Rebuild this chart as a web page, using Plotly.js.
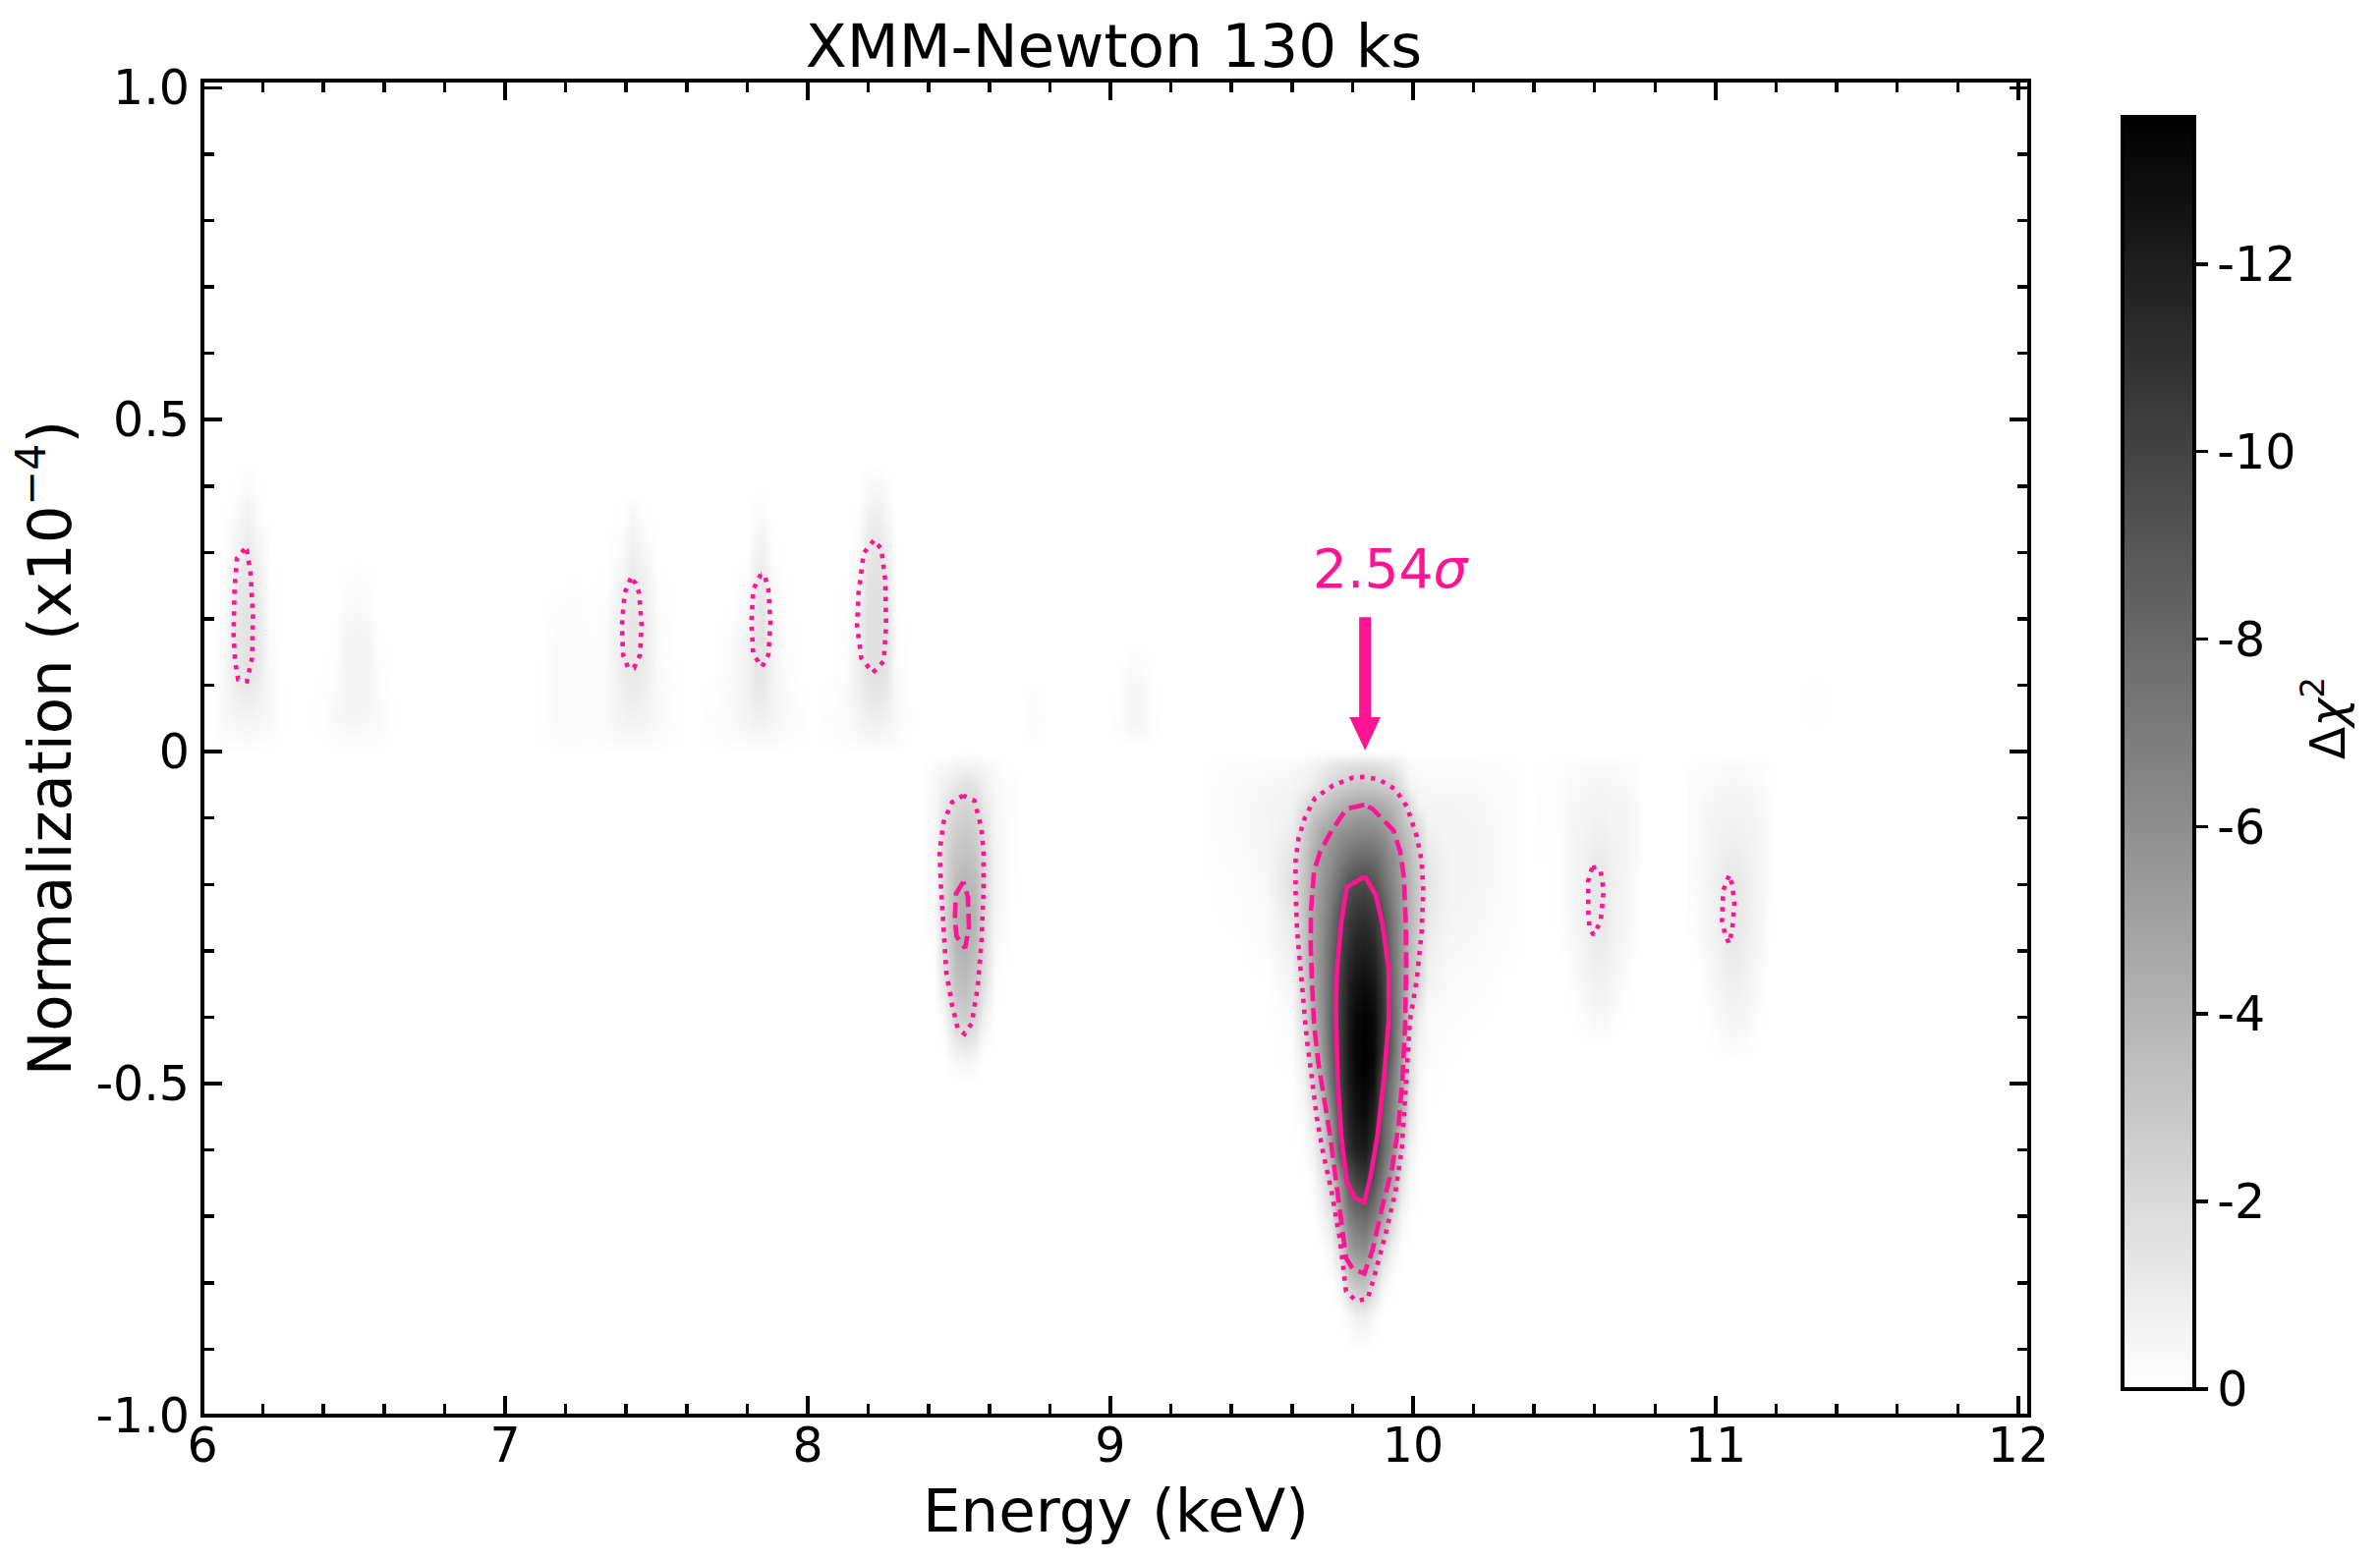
<!DOCTYPE html>
<html>
<head>
<meta charset="utf-8">
<script src="https://cdn.plot.ly/plotly-3.0.1.min.js"></script>
<style>html,body{margin:0;padding:0;background:#fff}</style>
</head>
<body>
<div id="plot-1" style="width:2422px;height:1589px"></div>
<script>
// Delta chi2 maps, stored as magnitude (the colourbar labels carry the sign)
var mainX = [9.30,9.42,9.52,9.60,9.64,9.67,9.70,9.73,9.76,9.79,9.81,9.84,9.87,9.90,9.93,9.96,9.99,10.02,10.05,10.12,10.20,10.30,10.38];
var mainY = [0,-0.02,-0.05,-0.08,-0.12,-0.16,-0.2,-0.25,-0.3,-0.35,-0.4,-0.45,-0.5,-0.55,-0.6,-0.65,-0.7,-0.75,-0.8,-0.85,-0.9];
var mainZ = [
 [0,0,0,0,0,0,0,0,0,0,0,0,0,0,0,0,0,0,0,0,0,0,0],
 [0,.15,.2,.3,.4,.6,.9,1.2,1.4,1.5,1.6,1.7,1.6,1.4,1.2,.7,.3,.2,.2,.2,.2,.1,0],
 [0,.3,.4,.5,.7,1.0,1.6,2.2,2.5,2.8,2.9,3.0,2.9,2.7,2.5,1.5,.6,.4,.35,.35,.35,.2,0],
 [0,.3,.5,.7,1.5,2.5,3.0,3.6,4.0,4.4,4.5,4.6,4.5,4.3,3.8,3.0,1.6,.6,.5,.5,.45,.25,0],
 [0,.3,.5,.9,2.6,3.6,4.6,5.2,5.7,6.0,6.2,6.3,6.2,5.8,4.9,3.8,3.0,2.0,.8,.55,.5,.3,0],
 [0,.2,.5,1.4,2.9,4.2,5.2,6.0,6.8,7.5,7.8,8.0,7.8,7.0,6.0,4.8,3.5,2.5,1.2,.55,.5,.3,0],
 [0,.1,.4,1.6,3.1,4.6,5.6,6.6,8.0,9.2,9.5,9.7,9.2,7.8,6.4,5.1,3.8,2.7,1.4,.55,.5,.3,0],
 [0,.05,.3,1.2,3.2,4.8,6.0,7.5,9.3,10.4,10.8,11,10.6,9.3,7.2,5.5,3.8,2.6,1.2,.5,.45,.2,0],
 [0,0,.15,.9,3.0,4.9,6.2,8.0,9.8,11.2,11.8,12,11.6,9.9,7.5,5.6,3.6,2.3,.9,.4,.35,.1,0],
 [0,0,0,.5,2.6,4.6,6.2,8.2,10.1,11.9,12.5,12.8,12.4,10.6,7.9,5.6,3.3,2.0,.6,.3,.2,0,0],
 [0,0,0,.2,2.0,4.2,6.0,8.4,10.3,12.3,13.0,13.4,13,11,8.2,5.5,2.2,.9,.3,.15,.05,0,0],
 [0,0,0,.1,1.2,3.5,5.6,8.2,10.3,12.4,13.2,13.57,13.1,10.8,8.0,5.2,1.8,.6,.2,.05,0,0,0],
 [0,0,0,0,.6,2.2,4.6,7.6,10.2,12.1,12.9,13.3,12.7,9.2,7.0,4.8,1.6,.4,.1,0,0,0,0],
 [0,0,0,0,.3,1.2,3.0,6.2,9.6,11.7,12.5,12.9,11.8,8.5,6.5,4.2,1.2,.2,0,0,0,0,0],
 [0,0,0,0,.1,.6,2.1,4.7,9.2,11,11.8,12.2,10.7,8.2,6,2.4,.7,.1,0,0,0,0,0],
 [0,0,0,0,0,.2,1.2,2.7,5.6,8.8,9.8,10.3,8.9,6.9,4.6,1.4,.3,0,0,0,0,0,0],
 [0,0,0,0,0,0,.5,1.4,4.8,6.8,7.5,8,7,5.2,2.0,.6,.1,0,0,0,0,0,0],
 [0,0,0,0,0,0,0,.5,2,5,5.7,6,4.6,2,.7,.1,0,0,0,0,0,0,0],
 [0,0,0,0,0,0,0,0,.5,2.7,3.3,3.4,2.3,.6,.1,0,0,0,0,0,0,0,0],
 [0,0,0,0,0,0,0,0,0,.3,.8,.9,.3,0,0,0,0,0,0,0,0,0,0],
 [0,0,0,0,0,0,0,0,0,0,0,0,0,0,0,0,0,0,0,0,0,0,0]
];

var b85X = [8.38,8.42,8.45,8.49,8.52,8.55,8.58,8.62,8.67];
var b85Y = [0,-.02,-.05,-.08,-.12,-.16,-.2,-.25,-.3,-.35,-.4,-.43,-.47,-.5];
var b85Z = [
 [0,0,0,0,0,0,0,0,0],
 [0,.2,.35,.5,.6,.5,.35,.2,0],
 [0,.35,.8,1.3,1.6,1.4,.9,.35,.1],
 [0,.4,1.2,2.0,2.2,2.1,1.2,.4,.1],
 [0,.4,1.7,2.6,2.8,2.6,1.7,.5,.1],
 [0,.4,2.0,3.1,3.3,3.1,2.0,.6,.1],
 [0,.3,2.0,3.6,3.9,3.6,2.1,.6,.05],
 [0,.25,2.0,4.0,4.3,4.0,2.1,.5,0],
 [0,.1,1.9,3.7,4.1,3.5,2.0,.3,0],
 [0,0,1.4,3.2,3.5,2.9,1.6,.1,0],
 [0,0,.3,2.4,2.6,2.1,.8,0,0],
 [0,0,.1,1.4,1.7,1.4,.3,0,0],
 [0,0,0,.3,.45,.3,0,0,0],
 [0,0,0,0,0,0,0,0,0]
];

var b106X = [10.44,10.49,10.53,10.57,10.60,10.63,10.66,10.70,10.74,10.76];
var b106Y = [0,-.03,-.08,-.14,-.2,-.26,-.32,-.37,-.41,-.44];
var b106Z = [
 [0,0,0,0,0,0,0,0,0,0],
 [.05,.1,.2,.3,.35,.35,.3,.25,.15,0],
 [.1,.15,.4,.5,.6,.6,.5,.5,.3,0],
 [.05,.15,.5,.7,.9,.9,.7,.6,.3,0],
 [0,.1,.5,.8,1.3,1.3,.8,.6,.25,0],
 [0,.05,.4,.8,1.2,1.2,.8,.5,.1,0],
 [0,0,.25,.6,.9,.9,.6,.3,0,0],
 [0,0,.1,.4,.6,.6,.4,.1,0,0],
 [0,0,0,.15,.3,.3,.1,0,0,0],
 [0,0,0,0,0,0,0,0,0,0]
];

var b110X = [10.93,10.97,11.00,11.03,11.06,11.09,11.12,11.15,11.18];
var b110Y = [0,-.03,-.08,-.14,-.2,-.26,-.32,-.38,-.43,-.47];
var b110Z = [
 [0,0,0,0,0,0,0,0,0],
 [.1,.2,.25,.3,.3,.3,.25,.2,.05],
 [.2,.4,.5,.55,.6,.55,.5,.35,.1],
 [.25,.55,.7,.85,.9,.8,.65,.45,.15],
 [.2,.6,.8,1.2,1.3,1.1,.75,.45,.1],
 [.1,.5,.8,1.2,1.3,1.1,.7,.4,0],
 [0,.3,.6,.9,1.05,.9,.55,.3,0],
 [0,.1,.35,.6,.7,.6,.35,.1,0],
 [0,0,.1,.3,.35,.3,.1,0,0],
 [0,0,0,0,0,0,0,0,0]
];

var b615X = [6.03,6.07,6.11,6.15,6.18,6.22,6.27];
var b615Y = [0,.02,.05,.08,.12,.16,.2,.25,.3,.35,.4,.44];
var b615Z = [
 [0,0,0,0,0,0,0],
 [0,.15,.25,.3,.25,.15,0],
 [.05,.3,.5,.6,.5,.35,.05],
 [.05,.35,.8,1.0,.8,.4,.05],
 [0,.3,1.2,1.4,1.2,.3,0],
 [0,.2,1.3,1.5,1.3,.2,0],
 [0,.1,1.3,1.5,1.3,.15,0],
 [0,.05,1.1,1.4,1.0,.1,0],
 [0,0,.7,1.1,.7,0,0],
 [0,0,.3,.8,.3,0,0],
 [0,0,.05,.3,.05,0,0],
 [0,0,0,0,0,0,0]
];

var b65X = [6.38,6.44,6.47,6.51,6.55,6.58,6.63];
var b65Y = [0,.02,.05,.1,.15,.2,.25,.29];
var b65Z = [
 [0,0,0,0,0,0,0],
 [0,.15,.2,.2,.2,.15,0],
 [.05,.35,.45,.5,.4,.3,.05],
 [0,.2,.5,.6,.5,.2,0],
 [0,.05,.5,.65,.5,.1,0],
 [0,0,.3,.45,.3,0,0],
 [0,0,.1,.2,.1,0,0],
 [0,0,0,0,0,0,0]
];

var b74X = [7.12,7.17,7.22,7.28,7.34,7.39,7.42,7.46,7.50,7.56];
var b74Y = [0,.02,.05,.08,.12,.16,.2,.25,.3,.35,.39];
var b74Z = [
 [0,0,0,0,0,0,0,0,0,0],
 [.05,.15,.15,.1,.2,.3,.35,.3,.2,.05],
 [.05,.25,.25,.2,.35,.6,.7,.6,.35,.1],
 [.05,.25,.3,.2,.35,.8,1.0,.8,.35,.1],
 [.05,.25,.3,.15,.3,1.0,1.2,1.0,.3,.05],
 [0,.25,.3,.1,.25,1.1,1.3,1.1,.25,0],
 [0,.15,.25,.05,.2,1.0,1.3,1.0,.2,0],
 [0,0,.05,0,.1,.8,1.2,.9,.1,0],
 [0,0,0,0,0,.3,.9,.4,0,0],
 [0,0,0,0,0,.1,.5,.1,0,0],
 [0,0,0,0,0,0,0,0,0,0]
];

var b785X = [7.68,7.74,7.80,7.83,7.85,7.88,7.92,7.97];
var b785Y = [0,.02,.05,.08,.12,.16,.2,.25,.3,.35,.4];
var b785Z = [
 [0,0,0,0,0,0,0,0],
 [.05,.2,.3,.35,.35,.3,.2,.05],
 [.1,.3,.6,.8,.8,.6,.3,.1],
 [.05,.3,.7,1.1,1.1,.7,.3,.05],
 [0,.2,.7,1.3,1.3,.7,.2,0],
 [0,.15,.7,1.4,1.5,.7,.15,0],
 [0,.05,.5,1.3,1.4,.5,.1,0],
 [0,0,.2,1.0,1.2,.3,.05,0],
 [0,0,0,.6,.8,.1,0,0],
 [0,0,0,.2,.3,0,0,0],
 [0,0,0,0,0,0,0,0]
];

var b823X = [8.07,8.13,8.17,8.20,8.23,8.26,8.29,8.33];
var b823Y = [0,.02,.05,.08,.12,.16,.2,.25,.3,.35,.4,.43];
var b823Z = [
 [0,0,0,0,0,0,0,0],
 [.05,.2,.3,.4,.4,.35,.2,.05],
 [.1,.3,.6,.8,.9,.7,.35,.1],
 [.05,.3,.8,1.2,1.2,1.0,.4,.05],
 [0,.2,.9,1.5,1.6,1.3,.3,0],
 [0,.15,.9,1.6,1.7,1.5,.25,0],
 [0,.1,.9,1.6,1.7,1.5,.15,0],
 [0,.05,.7,1.5,1.6,1.3,.1,0],
 [0,0,.4,1.2,1.4,1.0,.05,0],
 [0,0,.1,.8,1.0,.5,0,0],
 [0,0,0,.3,.4,.15,0,0],
 [0,0,0,0,0,0,0,0]
];

var b875X = [8.72,8.74,8.77];
var b875Y = [0.01,.04,.08,.11];
var b875Z = [[0,0,0],[.1,.25,.1],[.05,.2,.05],[0,0,0]];

var b908X = [9.03,9.07,9.10,9.14];
var b908Y = [0.01,.04,.08,.12,.17];
var b908Z = [[0,0,0,0],[.1,.4,.4,.1],[.05,.5,.45,.05],[0,.3,.2,0],[0,0,0,0]];

var b113X = [11.30,11.33,11.36];
var b113Y = [.02,.05,.09,.13];
var b113Z = [[0,0,0],[.03,.12,.03],[.03,.1,.03],[0,0,0]];

// contours, solid / dashed / dotted
var solidX = [9.841,9.781,9.763,9.749,9.745,9.751,9.763,9.781,9.808,9.839,9.860,9.882,9.904,9.920,9.920,9.898,9.877,9.841];
var solidY = [-.188,-.204,-.257,-.327,-.386,-.492,-.580,-.648,-.672,-.679,-.639,-.580,-.492,-.404,-.327,-.257,-.216,-.188];
var dashX = [9.839,9.781,9.758,9.725,9.693,9.673,9.663,9.662,9.666,9.673,9.687,9.709,9.727,9.747,9.765,9.779,9.801,9.839,9.866,9.898,9.931,9.952,9.965,9.974,9.977,9.976,9.969,9.958,9.936,9.893,9.866,9.839];
var dashY = [-.080,-.086,-.101,-.124,-.151,-.180,-.239,-.292,-.345,-.410,-.468,-.527,-.580,-.651,-.721,-.763,-.779,-.786,-.751,-.686,-.627,-.563,-.492,-.410,-.327,-.257,-.186,-.151,-.119,-.098,-.086,-.080];
var dotX = [9.839,9.801,9.736,9.676,9.644,9.622,9.612,9.612,9.617,9.628,9.639,9.649,9.666,9.682,9.703,9.731,9.758,9.779,9.812,9.850,9.871,9.909,9.942,9.963,9.974,9.990,10.012,10.028,10.034,10.028,10.012,9.980,9.942,9.888,9.839];
var dotY = [-.038,-.039,-.051,-.070,-.098,-.130,-.163,-.210,-.269,-.321,-.374,-.433,-.492,-.551,-.604,-.663,-.733,-.813,-.827,-.824,-.792,-.727,-.663,-.598,-.521,-.404,-.345,-.274,-.210,-.163,-.127,-.083,-.057,-.042,-.038];

var dash85X = [8.514,8.490,8.486,8.492,8.520,8.533,8.529,8.514];
var dash85Y = [-.196,-.214,-.254,-.278,-.296,-.264,-.219,-.196];
var dot85X = [8.514,8.477,8.449,8.436,8.440,8.449,8.458,8.477,8.496,8.518,8.542,8.561,8.574,8.581,8.581,8.574,8.551,8.514];
var dot85Y = [-.066,-.076,-.106,-.150,-.200,-.283,-.333,-.382,-.417,-.425,-.409,-.357,-.288,-.209,-.150,-.116,-.074,-.066];
var dot106X = [10.592,10.579,10.579,10.583,10.596,10.620,10.630,10.620,10.606,10.592];
var dot106Y = [-.175,-.195,-.239,-.264,-.276,-.256,-.209,-.180,-.174,-.175];
var dot110X = [11.044,11.025,11.021,11.030,11.044,11.055,11.062,11.055,11.044];
var dot110Y = [-.187,-.209,-.254,-.273,-.289,-.268,-.229,-.200,-.187];
var dot615X = [6.139,6.114,6.106,6.103,6.108,6.118,6.147,6.164,6.167,6.159,6.147,6.139];
var dot615Y = [.305,.291,.244,.175,.136,.109,.106,.141,.205,.269,.303,.305];
var dot74X = [7.415,7.395,7.386,7.390,7.406,7.426,7.446,7.451,7.443,7.431,7.415];
var dot74Y = [.261,.239,.190,.146,.127,.126,.146,.190,.239,.254,.261];
var dot785X = [7.845,7.820,7.814,7.820,7.849,7.870,7.877,7.870,7.857,7.845];
var dot785Y = [.267,.244,.195,.146,.128,.146,.195,.244,.267,.267];
var dot823X = [8.218,8.185,8.168,8.163,8.177,8.215,8.251,8.259,8.256,8.243,8.218];
var dot823Y = [.318,.299,.239,.190,.141,.119,.136,.190,.259,.306,.318];

// arrow at the line candidate
var shaftX = [9.8416,9.8416];
var shaftY = [0.2025,0.05];
var headX = [9.79,9.893,9.8416,9.79];
var headY = [0.052,0.052,0.0017,0.052];

var xTicks = [6,7,8,9,10,11,12];
var xLabels = ["6","7","8","9","10","11","12"];
var xMinor = [6.2,6.4,6.6,6.8,7.2,7.4,7.6,7.8,8.2,8.4,8.6,8.8,9.2,9.4,9.6,9.8,10.2,10.4,10.6,10.8,11.2,11.4,11.6,11.8];
var yTicks = [-1,-0.5,0,0.5,1];
var yLabels = ["-1.0","-0.5","0","0.5","1.0"];
var yMinor = [-.9,-.8,-.7,-.6,-.4,-.3,-.2,-.1,.1,.2,.3,.4,.6,.7,.8,.9];
var cbTicks = [0,2,4,6,8,10,12];
var cbLabels = ["0","-2","-4","-6","-8","-10","-12"];

var pink = "#ff1493";
var black = "#000";
var family = "DejaVu Sans";

function heat(x, y, z) {
    // rows go into the heatmap with y ascending
    if (y[0] > y[y.length - 1]) {
        y = y.slice().reverse();
        z = z.slice().reverse();
    }
    return {type: "heatmap", x: x, y: y, z: z, zsmooth: "best", coloraxis: "coloraxis", hoverinfo: "skip"};
}

function contour(x, y, dash, width) {
    return {type: "scatter", mode: "lines", x: x, y: y, hoverinfo: "skip", showlegend: false,
        line: {color: pink, width: width, dash: dash, shape: "linear"}};
}

var solid = "solid", dashed = "16px,7px", dotted = "4.4px,6.6px";

var data = [
    heat(mainX, mainY, mainZ), heat(b85X, b85Y, b85Z), heat(b106X, b106Y, b106Z), heat(b110X, b110Y, b110Z),
    heat(b615X, b615Y, b615Z), heat(b65X, b65Y, b65Z), heat(b74X, b74Y, b74Z), heat(b785X, b785Y, b785Z),
    heat(b823X, b823Y, b823Z), heat(b875X, b875Y, b875Z), heat(b908X, b908Y, b908Z), heat(b113X, b113Y, b113Z),
    contour(solidX, solidY, solid, 4.6),
    contour(dashX, dashY, dashed, 4.6),
    contour(dotX, dotY, dotted, 4.6),
    contour(dash85X, dash85Y, dashed, 4.6),
    contour(dot85X, dot85Y, dotted, 4.6),
    contour(dot106X, dot106Y, dotted, 4.6),
    contour(dot110X, dot110Y, dotted, 4.6),
    contour(dot615X, dot615Y, dotted, 4.6),
    contour(dot74X, dot74Y, dotted, 4.6),
    contour(dot785X, dot785Y, dotted, 4.6),
    contour(dot823X, dot823Y, dotted, 4.6),
    contour(shaftX, shaftY, solid, 12),
    {type: "scatter", mode: "lines", x: headX, y: headY, fill: "toself", fillcolor: pink, line: {color: pink, width: 0}, hoverinfo: "skip", showlegend: false}
];

var layout = {
    width: 2422,
    height: 1589,
    margin: {l: 206, r: 357, t: 82, b: 148, pad: 0},
    paper_bgcolor: "#fff",
    plot_bgcolor: "#fff",
    showlegend: false,
    font: {family: family, size: 49, color: black},
    title: {text: "XMM-Newton 130 ks", font: {family: family, size: 61.3, color: black}, x: 0.468, xanchor: "center", y: 0.971, yanchor: "middle"},
    xaxis: {
        range: [6, 12.036], tickmode: "array", tickvals: xTicks, ticktext: xLabels,
        ticks: "inside", ticklen: 20, tickwidth: 3.5, tickcolor: black, mirror: "allticks",
        showline: false, showgrid: false, zeroline: false, ticklabelstandoff: -3,
        minor: {ticks: "inside", tickmode: "array", tickvals: xMinor, ticklen: 12, tickwidth: 3.5, tickcolor: black, showgrid: false},
        tickfont: {family: family, size: 49, color: black},
        title: {text: "Energy (keV)", font: {family: family, size: 61, color: black}, standoff: 17}
    },
    yaxis: {
        range: [-1, 1.0108], tickmode: "array", tickvals: yTicks, ticktext: yLabels,
        ticks: "inside", ticklen: 20, tickwidth: 3.5, tickcolor: black, mirror: "allticks",
        showline: false, showgrid: false, zeroline: false, ticklabelstandoff: 12,
        minor: {ticks: "inside", tickmode: "array", tickvals: yMinor, ticklen: 12, tickwidth: 3.5, tickcolor: black, showgrid: false},
        tickfont: {family: family, size: 49, color: black},
        title: {text: "Normalization (x10<sup>\u22124</sup>)", font: {family: family, size: 61, color: black}, standoff: 5}
    },
    coloraxis: {
        cmin: 0, cmax: 13.57,
        colorscale: [[0, "#ffffff"], [1, "#000000"]],
        colorbar: {
            x: 1.051, xanchor: "left", thickness: 73, thicknessmode: "pixels", xpad: 0, ypad: 0,
            y: 0.0199, yanchor: "bottom", len: 0.953, lenmode: "fraction",
            outlinewidth: 4, outlinecolor: black,
            tickmode: "array", tickvals: cbTicks, ticktext: cbLabels, ticks: "outside", ticklen: 12, tickwidth: 3.5, tickcolor: black,
            tickfont: {family: family, size: 49, color: black}
        }
    },
    shapes: [
        {type: "rect", xref: "paper", yref: "paper", x0: 0, x1: 1, y0: 0, y1: 1, line: {color: black, width: 4}, fillcolor: "rgba(0,0,0,0)", layer: "above"}
    ],
    annotations: [
        {text: "2.54<i>\u03c3</i>", x: 9.928, y: 0.275, xref: "x", yref: "y", showarrow: false, font: {family: family, size: 55, color: pink}},
        {text: "\u0394<i>\u03c7</i><sup>2</sup>", x: 1.18, y: 0.5224, xref: "paper", yref: "paper", textangle: -90, showarrow: false, font: {family: family, size: 49, color: black}}
    ]
};

Plotly.newPlot("plot-1", data, layout, {displayModeBar: false, staticPlot: true});
</script>
</body>
</html>
